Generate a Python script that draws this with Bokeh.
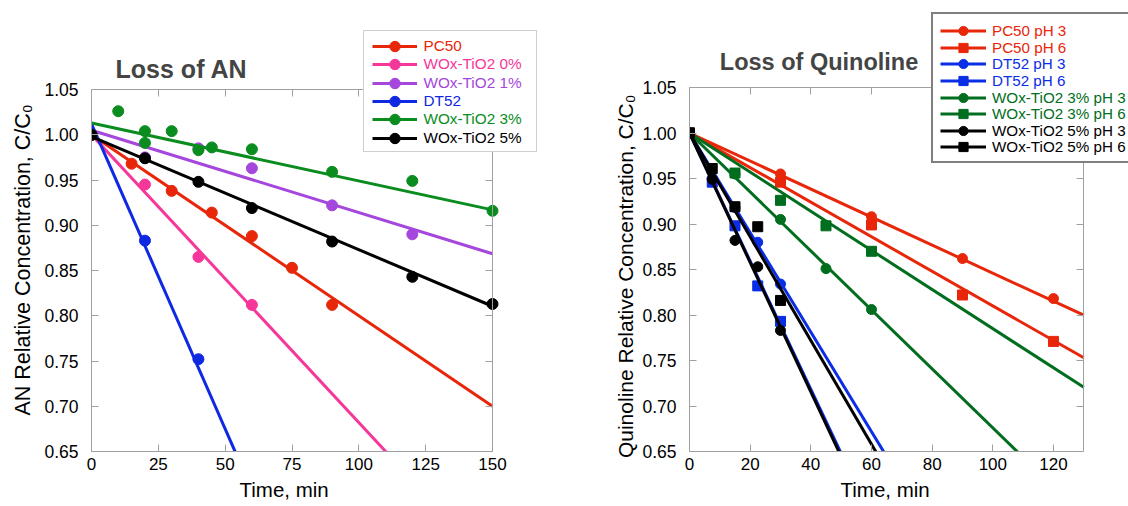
from bokeh.plotting import figure
from bokeh.models import (Range1d, FixedTicker, PrintfTickFormatter, LinearAxis, Legend,
                          LegendItem, CustomJSTickFormatter, Label, Title)
from bokeh.layouts import row
from bokeh.embed import file_html
from bokeh.resources import INLINE

FONT = "Liberation Sans"
GRAY = "#a0a0a0"

# ---------------- Left chart: Loss of AN ----------------
an_series = ["PC50", "WOx-TiO2 0%", "WOx-TiO2 1%", "DT52", "WOx-TiO2 3%", "WOx-TiO2 5%"]
an_colors = ["#e8260a", "#f5379a", "#a546dc", "#0f28e1", "#0a8c1e", "#000000"]
an_time = [
    [0, 15, 30, 45, 60, 75, 90],
    [0, 20, 40, 60],
    [0, 20, 40, 60, 90, 120],
    [0, 20, 40],
    [0, 10, 20, 20, 30, 40, 45, 60, 90, 120, 150],
    [0, 20, 40, 60, 90, 120, 150],
]
an_conc = [
    [1.000, 0.968, 0.938, 0.914, 0.888, 0.853, 0.812],
    [1.000, 0.945, 0.865, 0.812],
    [1.000, 0.975, 0.985, 0.963, 0.922, 0.890],
    [1.000, 0.883, 0.752],
    [1.000, 1.026, 1.004, 0.991, 1.004, 0.983, 0.986, 0.984, 0.959, 0.949, 0.916],
    [1.000, 0.974, 0.948, 0.919, 0.882, 0.843, 0.813],
]
an_fit_intercept = [1.000, 1.000, 1.005, 1.012, 1.013, 0.998]
an_fit_slope = [-0.00200, -0.00318, -0.00091, -0.00674, -0.00064, -0.00125]
an_xticks = [0, 25, 50, 75, 100, 125, 150]
an_xmax = 150

# ---------------- Right chart: Loss of Quinoline ----------------
q_series = ["PC50 pH 3", "PC50 pH 6", "DT52 pH 3", "DT52 pH 6",
            "WOx-TiO2 3% pH 3", "WOx-TiO2 3% pH 6", "WOx-TiO2 5% pH 3", "WOx-TiO2 5% pH 6"]
q_colors = ["#e8260a", "#e8260a", "#0a2de6", "#0a2de6", "#006e1e", "#006e1e", "#000000", "#000000"]
q_markers = ["circle", "square", "circle", "square", "circle", "square", "circle", "square"]
q_time = [
    [0, 30, 60, 90, 120],
    [0, 30, 60, 90, 120],
    [0, 7.5, 15, 22.5, 30],
    [0, 7.5, 15, 22.5, 30],
    [0, 15, 30, 45, 60],
    [0, 15, 30, 45, 60],
    [0, 7.5, 15, 22.5, 30],
    [0, 7.5, 15, 22.5, 30],
]
q_conc = [
    [1.000, 0.955, 0.908, 0.862, 0.818],
    [1.000, 0.946, 0.899, 0.822, 0.771],
    [1.000, 0.950, 0.918, 0.880, 0.834],
    [1.000, 0.946, 0.898, 0.832, 0.793],
    [1.000, 0.955, 0.905, 0.851, 0.806],
    [1.000, 0.956, 0.926, 0.898, 0.870],
    [1.000, 0.949, 0.882, 0.853, 0.783],
    [1.000, 0.961, 0.919, 0.897, 0.816],
]
q_fit_intercept = [1.0, 1.0, 1.0, 1.0, 1.0, 1.0, 1.0, 1.0]
q_fit_slope = [-0.00154, -0.00190, -0.00547, -0.00704, -0.00324, -0.00215, -0.00711, -0.00570]
q_xticks = [0, 20, 40, 60, 80, 100, 120]
q_xmax = 130

yticks = [0.65, 0.70, 0.75, 0.80, 0.85, 0.90, 0.95, 1.00, 1.05]
YMIN, YMAX = 0.65, 1.05


def make_fig(width, xmax, xview, ytop, xticks, bl, br, bt, bb):
    # the frame is a little larger than the axes box so that the legend and title,
    # which overlap the box edges in the original, are not clipped
    p = figure(width=width, height=506, x_range=Range1d(0, xview), y_range=Range1d(YMIN, ytop),
               output_backend="svg", toolbar_location=None,
               min_border_left=bl, min_border_right=br, min_border_top=bt, min_border_bottom=bb)
    p.title.visible = False
    p.xgrid.visible = False
    p.ygrid.visible = False
    p.outline_line_color = None
    p.xaxis.ticker = FixedTicker(ticks=xticks)
    p.yaxis.ticker = FixedTicker(ticks=yticks)
    p.yaxis.formatter = PrintfTickFormatter(format="%.2f")
    p.xaxis.bounds = (0, xmax)
    p.yaxis.bounds = (YMIN, YMAX)
    for ax in (p.xaxis[0], p.yaxis[0]):
        ax.axis_line_color = GRAY
        ax.major_tick_line_color = GRAY
        ax.major_tick_in = 7
        ax.major_tick_out = 0
        ax.minor_tick_line_color = None
        ax.major_label_text_font = FONT
        ax.major_label_text_color = "black"
    p.xaxis.major_label_text_font_size = "17px"
    p.yaxis.major_label_text_font_size = "17.5px"
    p.xaxis.major_label_standoff = 6
    p.yaxis.major_label_standoff = 13
    # mirrored box edges with inward ticks
    top = LinearAxis(ticker=FixedTicker(ticks=xticks), formatter=CustomJSTickFormatter(code="return ''"),
                     fixed_location=YMAX, bounds=(0, xmax))
    top.major_tick_in = 7
    top.major_tick_out = 0
    right = LinearAxis(ticker=FixedTicker(ticks=yticks), formatter=CustomJSTickFormatter(code="return ''"),
                       fixed_location=xmax, bounds=(YMIN, YMAX))
    right.major_tick_in = 0
    right.major_tick_out = 7
    for ax in (top, right):
        ax.axis_line_color = GRAY
        ax.major_tick_line_color = GRAY
        ax.minor_tick_line_color = None
        ax.major_label_text_font_size = "1px"
        ax.major_label_standoff = 0
    p.add_layout(top, "above")
    p.add_layout(right, "left")
    return p


def axis_title(text, size, align, offset, standoff):
    return Title(text=text, align=align, offset=offset, standoff=standoff,
                 text_font=FONT, text_font_size=size, text_font_style="normal", text_color="black")


def add_legend(p, entries, colors, frame_left, frame_bottom, box, glyph_x, row0, row_step,
               glyph_w, glyph_h, standoff, font_size, border_color, border_width):
    bx0, by0, bx1, by1 = box
    dummy = p.line(x=[], y=[], line_alpha=0)
    box_leg = Legend(items=[LegendItem(label=" ", renderers=[dummy])],
                     location=(bx0 - frame_left, frame_bottom - by1),
                     padding=0, margin=0, spacing=0,
                     glyph_width=int(bx1 - bx0 - 4), glyph_height=int(by1 - by0),
                     label_standoff=0, label_width=0, label_text_alpha=0,
                     border_line_color=border_color, border_line_width=border_width,
                     background_fill_color="white", background_fill_alpha=1)
    p.add_layout(box_leg)
    for i, (label, rends) in enumerate(entries):
        cy = row0 + i * row_step
        leg = Legend(items=[LegendItem(label=label, renderers=rends)],
                     location=(glyph_x - frame_left, frame_bottom - (cy + glyph_h / 2)),
                     padding=0, margin=0, spacing=0,
                     glyph_width=glyph_w, glyph_height=glyph_h, label_height=glyph_h,
                     label_standoff=standoff, label_text_font=FONT,
                     label_text_font_size=font_size, label_text_color=colors[i],
                     border_line_color=None, background_fill_alpha=0)
        p.add_layout(leg)


# ---------- left ----------
# frame: x 91..560 px, y 10..451 px  (0..150 -> 401 px, 0.65..1.05 -> 362 px)
p1 = make_fig(600, an_xmax, 469 * 150 / 401, 0.65 + 441 * 0.4 / 362, an_xticks, 91, 40, 10, 55)
p1.add_layout(axis_title("AN Relative Concentration, C/C\u2080", "21.5px", "left", 36, 14), "left")
p1.add_layout(axis_title("Time, min", "20.5px", "left", 148, 7), "below")
entries1 = []
for name, col, t, c, a, b in zip(an_series, an_colors, an_time, an_conc, an_fit_intercept, an_fit_slope):
    ln = p1.line(x=[0, an_xmax], y=[a, a + b * an_xmax], line_color=col, line_width=3)
    sc = p1.scatter(x=t, y=c, marker="circle", size=11, fill_color=col, line_color=col)
    entries1.append((name, [ln, sc]))
add_legend(p1, entries1, an_colors, 91, 451, (363, 32, 539, 152), 371.5, 46, 18.33,
           45, 26, 7, "15.3px", "#a0a0a0", 1)
p1.add_layout(Label(x=9, y=1.0732, text="Loss of AN", text_font=FONT, text_font_style="bold",
                    text_font_size="25px", text_baseline="alphabetic", text_align="left"))

# ---------- right ----------
# frame: x 689..1128 px, y 10..451 px  (0..130 -> 394.3 px, 0.65..1.05 -> 364 px)
p2 = make_fig(528, q_xmax, 439 * 130 / 394.3, 0.65 + 441 * 0.4 / 364, q_xticks, 89, 0, 10, 55)
p2.add_layout(axis_title("Quinoline Relative Concentration, C/C\u2080", "21px", "right", 84, 6), "left")
p2.add_layout(axis_title("Time, min", "20.5px", "left", 151, 7), "below")
entries2 = []
for name, col, mk, t, c, a, b in zip(q_series, q_colors, q_markers, q_time, q_conc, q_fit_intercept, q_fit_slope):
    ln = p2.line(x=[0, q_xmax], y=[a, a + b * q_xmax], line_color=col, line_width=3)
    sc = p2.scatter(x=t, y=c, marker=mk, size=10, fill_color=col, line_color=col)
    entries2.append((name, [ln, sc]))
add_legend(p2, entries2, q_colors, 689, 451, (931, 16, 1180, 163), 940, 30.7, 16.6,
           46, 23, 6, "15.2px", "black", 2)
p2.add_layout(Label(x=10, y=1.0778, text="Loss of Quinoline", text_font=FONT, text_font_style="bold",
                    text_font_size="23.5px", text_baseline="alphabetic", text_align="left"))

layout = row(p1, p2)
open("out.html", "w").write(file_html(layout, INLINE))
